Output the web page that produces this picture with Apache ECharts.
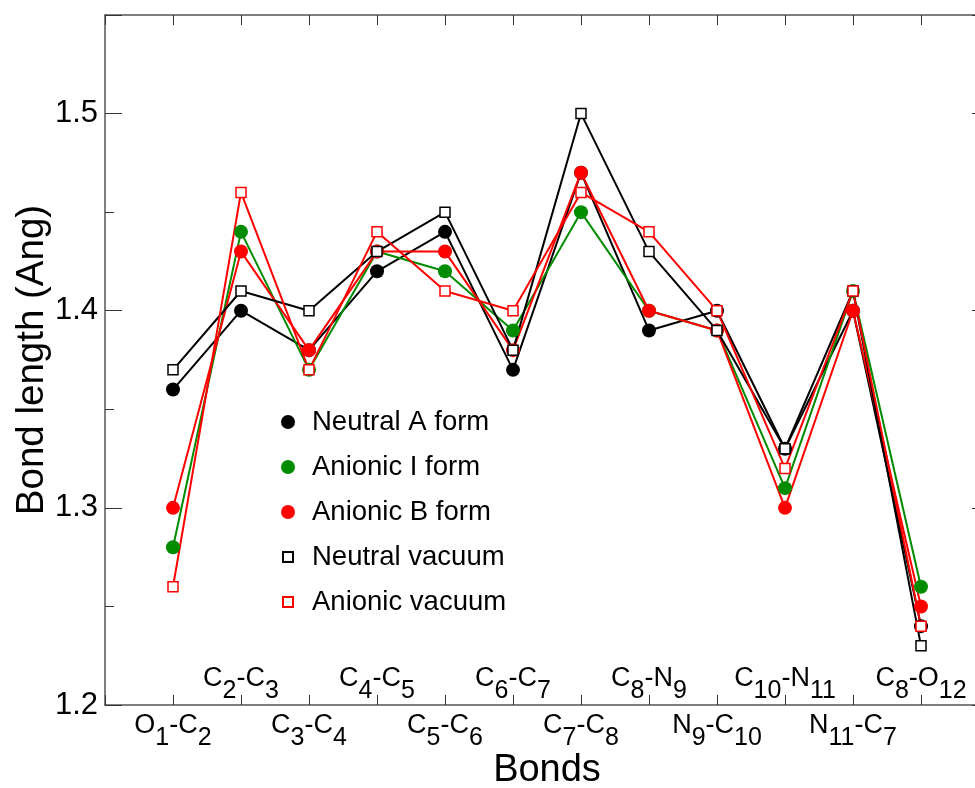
<!DOCTYPE html>
<html>
<head>
<meta charset="utf-8">
<title>Bond lengths</title>
<script src="https://cdn.jsdelivr.net/npm/echarts@6/dist/echarts.min.js"></script>
<style>
  html, body { margin: 0; padding: 0; background: #fff; }
  #chart { width: 975px; height: 788px; }
</style>
</head>
<body>
<div id="chart"></div>
<script>
// bond labels: [atom, sub, atom, sub]
const bonds = [
  ['O', '1', 'C', '2'], ['C', '2', 'C', '3'], ['C', '3', 'C', '4'],
  ['C', '4', 'C', '5'], ['C', '5', 'C', '6'], ['C', '6', 'C', '7'],
  ['C', '7', 'C', '8'], ['C', '8', 'N', '9'], ['N', '9', 'C', '10'],
  ['C', '10', 'N', '11'], ['N', '11', 'C', '7'], ['C', '8', 'O', '12']
]
const seriesNames = ['Neutral A form', 'Anionic I form', 'Anionic B form', 'Neutral vacuum', 'Anionic vacuum']
const neutralA   = [1.36, 1.40, 1.38, 1.42, 1.44, 1.37, 1.47, 1.39, 1.40, 1.33, 1.40, 1.24]
const anionicI   = [1.28, 1.44, 1.37, 1.43, 1.42, 1.39, 1.45, 1.40, 1.39, 1.31, 1.41, 1.26]
const anionicB   = [1.30, 1.43, 1.38, 1.43, 1.43, 1.38, 1.47, 1.40, 1.39, 1.30, 1.40, 1.25]
const neutralVac = [1.37, 1.41, 1.40, 1.43, 1.45, 1.38, 1.50, 1.43, 1.39, 1.33, 1.41, 1.23]
const anionicVac = [1.26, 1.46, 1.37, 1.44, 1.41, 1.40, 1.46, 1.44, 1.40, 1.32, 1.41, 1.24]

const font = '"Liberation Sans", Arial, Helvetica, sans-serif'
const GREEN = '#008b00'
const RED = '#ff0000'
// square with empty margin so it looks smaller than the circles in the legend
const smallSquare = 'path://M0,0L0,0M2,2L12,2L12,12L2,12ZM14,14L14,14'

function toPoints(arr) {
  return arr.map((v, i) => [i + 1, v])
}

function bondLabel(v, odd) {
  const i = Math.round(v)
  if (i < 1 || i > 12 || (i % 2 === 1) !== odd) return ''
  const b = bonds[i - 1]
  return `{m|${b[0]}}{s|${b[1]}}{m|-${b[2]}}{s|${b[3]}}`
}

// subscripts are almost full size, dropped ~12px
const richLabel = {
  m: { fontSize: 27, fontFamily: font, color: '#000', lineHeight: 28 },
  s: { fontSize: 25, fontFamily: font, color: '#000', lineHeight: 25, padding: [24, 0, 0, 0] }
}

const frame = { show: true, onZero: false, lineStyle: { color: '#555', width: 1.5 } }

const chart = echarts.init(document.getElementById('chart'), null, { renderer: 'canvas' })

function lineSeries(name, data, color, symbol, hollow) {
  return {
    name: name,
    type: 'line',
    data: toPoints(data),
    symbol: symbol,
    symbolSize: hollow ? 10 : 14,
    showSymbol: true,
    lineStyle: { color: color, width: 2 },
    itemStyle: hollow
      ? { color: '#fff', borderColor: color, borderWidth: 1.5 }
      : { color: color, borderWidth: 0 },
    emphasis: { disabled: true },
    animation: false
  }
}

const option = {
  backgroundColor: '#fff',
  animation: false,
  // plot runs past the right edge of the picture, as in the original
  grid: { left: 105, top: 15, right: -14, bottom: 83, containLabel: false, outerBoundsMode: 'none' },
  legend: {
    orient: 'vertical',
    left: 275,
    top: 403,
    itemWidth: 38,
    itemHeight: 14,
    itemGap: 17,
    textStyle: { fontSize: 27.5, fontFamily: font, color: '#000', lineHeight: 28 },
    data: [
      { name: seriesNames[0], icon: 'circle' },
      { name: seriesNames[1], icon: 'circle' },
      { name: seriesNames[2], icon: 'circle' },
      { name: seriesNames[3], icon: smallSquare },
      { name: seriesNames[4], icon: smallSquare }
    ]
  },
  xAxis: [
    {
      type: 'value', position: 'bottom', min: 0, max: 13, interval: 1,
      name: 'Bonds', nameLocation: 'middle', nameGap: 47, nameMoveOverlap: false,
      nameTextStyle: { fontSize: 38, fontFamily: font, color: '#000' },
      axisLine: frame,
      axisTick: { show: true, inside: true, length: 10, lineStyle: { color: '#333', width: 1 } },
      axisLabel: { margin: 7, formatter: v => bondLabel(v, true), rich: richLabel },
      splitLine: { show: false }
    },
    {
      type: 'value', position: 'bottom', min: 0, max: 13, interval: 1,
      axisLine: { show: false },
      axisTick: { show: false },
      axisLabel: { inside: true, margin: 12, formatter: v => bondLabel(v, false), rich: richLabel },
      splitLine: { show: false }
    },
    {
      type: 'value', position: 'top', min: 0, max: 13, interval: 1,
      axisLine: frame,
      axisTick: { show: true, inside: true, length: 10, lineStyle: { color: '#333', width: 1 } },
      axisLabel: { show: false },
      splitLine: { show: false }
    }
  ],
  yAxis: [
    {
      type: 'value', position: 'left', min: 1.2, max: 1.55, interval: 0.1,
      name: 'Bond length (Ang)', nameLocation: 'middle', nameGap: 53, nameMoveOverlap: false,
      nameTextStyle: { fontSize: 38.5, fontFamily: font, color: '#000' },
      axisLine: frame,
      axisTick: { show: true, inside: true, length: 17, lineStyle: { color: '#333', width: 1 } },
      minorTick: { show: true, splitNumber: 2, length: 9, lineStyle: { color: '#333', width: 1 } },
      axisLabel: {
        margin: 7, fontSize: 31, fontFamily: font, color: '#000', showMaxLabel: false,
        formatter: v => v.toFixed(1)
      },
      splitLine: { show: false }
    },
    {
      type: 'value', position: 'right', min: 1.2, max: 1.55, interval: 0.1,
      axisLine: frame,
      axisTick: { show: true, inside: true, length: 17, lineStyle: { color: '#333', width: 1 } },
      minorTick: { show: true, splitNumber: 2, length: 9, lineStyle: { color: '#333', width: 1 } },
      axisLabel: { show: false },
      splitLine: { show: false }
    }
  ],
  series: [
    lineSeries(seriesNames[0], neutralA, '#000', 'circle', false),
    lineSeries(seriesNames[1], anionicI, GREEN, 'circle', false),
    lineSeries(seriesNames[2], anionicB, RED, 'circle', false),
    lineSeries(seriesNames[3], neutralVac, '#000', 'rect', true),
    lineSeries(seriesNames[4], anionicVac, RED, 'rect', true)
  ]
}

chart.setOption(option)
</script>
</body>
</html>
